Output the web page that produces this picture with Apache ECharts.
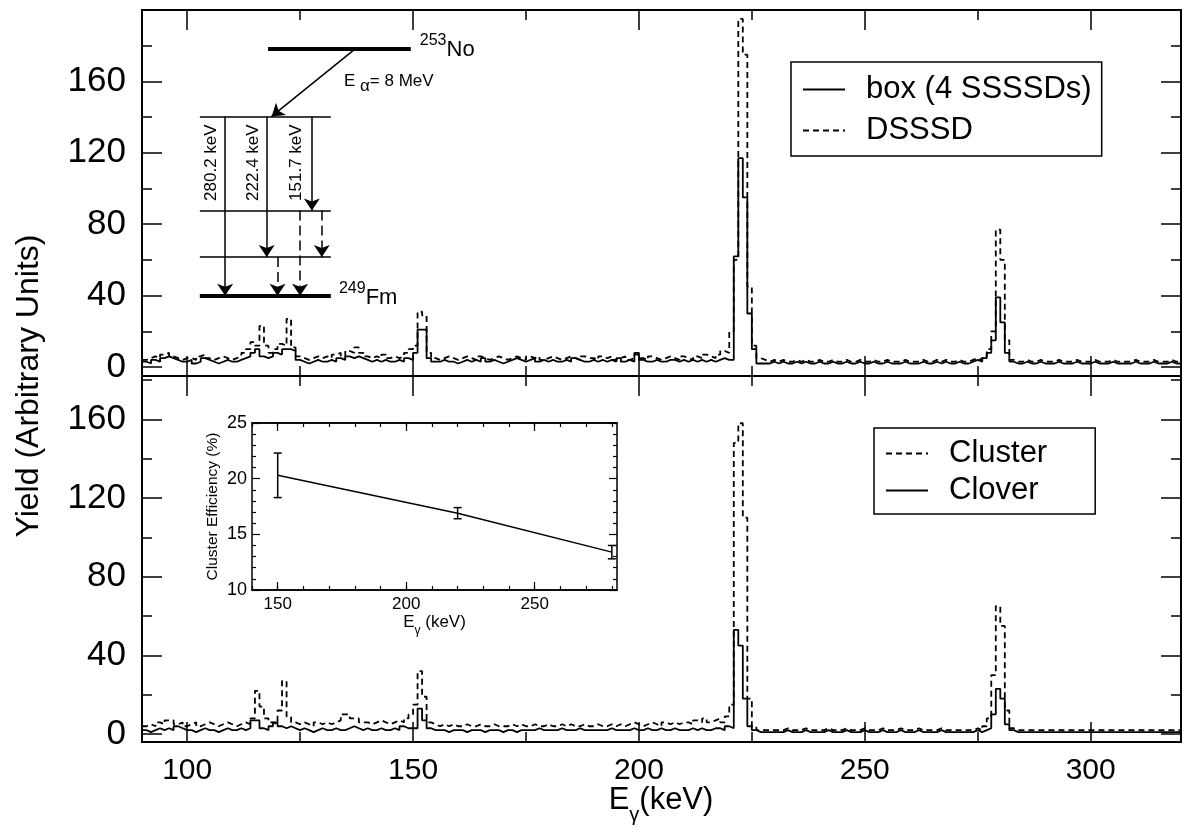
<!DOCTYPE html>
<html><head><meta charset="utf-8">
<script src="https://cdn.jsdelivr.net/npm/echarts@6/dist/echarts.min.js"></script>
<style>html,body{margin:0;padding:0;background:#fff}#c{width:1184px;height:832px}</style>
</head><body><div id="c"></div>
<script>
// ---------- data ----------
const binStart = 90, binWidth = 1;   // keV, bins 90..320
// top panel: box (4 SSSSDs) (solid)
const boxSSSSD = [
 3,2,4,3,5,6,5,4,3,3,
 4,2,3,5,4,3,2,3,4,3,
 3,4,5,6,8,10,6,5,6,8,
 7,10,10,9,4,3,2,3,4,3,
 3,4,3,5,4,6,5,6,5,4,
 3,4,3,4,3,3,4,3,5,4,
 8,21,21,5,3,3,4,3,3,2,
 3,4,3,4,3,5,3,4,3,2,
 3,4,5,4,3,4,5,3,4,3,
 4,3,3,4,3,5,4,3,3,4,
 3,4,3,4,3,5,3,4,3,8,
 4,3,3,4,3,3,4,4,3,4,
 3,4,3,4,3,4,3,4,5,4,
 4,62,117,95,30,10,2,2,2,3,
 2,3,2,2,3,2,3,2,2,3,
 2,2,3,2,2,3,2,2,3,2,
 2,3,2,2,3,2,2,2,3,2,
 2,2,3,2,2,3,2,3,2,2,
 3,2,2,3,4,3,5,8,15,39,
 25,8,3,2,2,3,2,2,3,2,
 2,2,3,2,2,2,3,2,2,2,
 3,2,2,2,3,2,2,2,2,3,
 2,2,2,3,2,2,2,3,2,2];
// top panel: DSSSD (dashed)
const dsssd = [
 4,5,6,5,7,8,6,5,4,5,
 5,4,6,7,5,4,5,6,5,4,
 5,6,8,10,14,12,23,12,8,10,
 13,12,27,11,6,5,4,5,6,5,
 6,5,7,8,6,9,8,11,8,6,
 5,6,5,7,5,6,5,6,8,10,
 12,31,29,8,5,4,5,6,5,4,
 5,6,5,4,6,5,4,5,6,5,
 4,5,6,5,4,6,5,6,4,5,
 6,5,4,5,6,5,4,6,5,5,
 4,6,5,6,4,5,6,4,5,7,
 5,4,6,5,4,5,6,5,4,6,
 5,4,6,5,7,6,5,7,9,8,
 20,60,195,175,45,12,5,4,3,4,
 3,4,3,3,4,3,4,3,3,4,
 3,3,4,3,3,4,3,3,4,3,
 3,4,3,3,4,3,3,3,4,3,
 3,3,4,3,3,4,3,4,3,3,
 4,3,3,4,5,4,6,10,20,77,
 60,15,4,3,3,4,3,3,4,3,
 3,3,4,3,3,3,4,3,3,3,
 4,3,3,3,4,3,3,3,3,4,
 3,3,3,4,3,3,3,4,3,3];
// bottom panel: Cluster (dashed)
const cluster = [
 4,5,4,6,5,7,7,5,6,4,
 5,6,4,5,6,5,4,5,6,5,
 4,5,6,5,8,22,14,8,6,5,
 12,27,9,6,5,6,5,4,6,5,
 6,5,6,7,10,10,8,8,6,6,
 5,6,7,6,5,6,7,6,8,10,
 15,32,19,6,5,4,5,4,5,4,
 4,5,4,4,5,4,4,5,4,4,
 4,5,4,5,4,4,5,4,4,5,
 4,4,5,4,5,4,4,5,4,4,
 5,4,4,5,4,5,4,5,6,5,
 4,5,6,5,4,6,5,6,5,6,
 6,5,7,6,8,6,7,8,6,9,
 15,148,158,110,18,4,2,2,2,2,
 2,2,3,2,2,2,3,2,2,2,
 2,3,2,2,2,3,2,2,2,3,
 2,2,2,3,2,2,2,3,2,2,
 2,3,2,2,2,2,3,2,2,2,
 2,2,2,2,3,2,4,8,30,65,
 55,12,3,2,2,2,2,2,2,2,
 2,2,2,2,2,2,2,2,2,2,
 2,2,2,2,2,2,2,2,2,2,
 2,2,2,2,2,2,2,2,2,2];
// bottom panel: Clover (solid)
const clover = [
 2,1,2,3,2,3,2,4,3,2,
 2,1,2,3,2,2,1,2,3,2,
 2,3,2,3,7,7,3,2,4,6,
 4,3,4,3,2,3,2,1,2,3,
 2,2,3,2,2,3,4,3,2,3,
 2,2,3,2,2,3,2,4,3,3,
 3,13,7,3,2,2,2,1,2,2,
 2,1,2,2,2,1,2,2,2,1,
 2,2,1,2,2,2,2,3,2,2,
 2,2,3,2,2,2,3,2,2,2,
 2,2,2,3,2,2,2,2,3,2,
 2,3,2,2,3,2,2,3,2,2,
 2,3,2,3,2,2,3,3,2,4,
 3,53,45,18,4,2,1,1,1,1,
 1,1,2,1,1,1,2,1,1,1,
 1,2,1,1,1,2,1,1,1,2,
 1,1,1,2,1,1,1,2,1,1,
 1,2,1,1,1,1,2,1,1,1,
 1,1,1,1,2,1,2,3,10,23,
 18,5,2,1,1,1,1,1,1,1,
 1,1,1,1,1,1,1,1,1,1,
 1,1,1,1,1,1,1,1,1,1,
 1,1,1,1,1,1,1,1,1,1];
// inset: cluster efficiency
const effE = [150, 220, 280];
const effVal = [20.3, 16.9, 13.4];
const effLow = [18.3, 16.4, 12.8];
const effHigh = [22.3, 17.4, 14.0];
// tick values
const xMajor = [100,150,200,250,300];
const xAll = [100,125,150,175,200,225,250,275,300];
const yLabels = [0,40,80,120,160];
const yMajorTop = [0,40,80,120,160,200];
const yAllTop = [0,20,40,60,80,100,120,140,160,180,200];
const yMajorBot = [0,40,80,120,160];
const yAllBot = [0,20,40,60,80,100,120,140,160,180];
const insetXLabels = [150,200,250];
// level scheme (in top-panel keV / yield coordinates)
const levelNo = {x:[117.9,149.5], y:178.2};
const levelsExcited = [140.4, 87.7, 61.6];
const levelFm = 39.9;
const levelX = [102.8, 131.8];
const alphaArrow = [[137.2,178.2],[118.7,140.4]];
const gammaSolid = [[108.4,140.4,39.9],[117.6,140.4,61.6],[127.6,140.4,87.7]];
const gammaDashed = [[125.0,87.7,39.9],[129.8,87.7,61.6],[120.0,61.6,39.9]];
const gammaLabels = [['280.2 keV',105.4],['222.4 keV',114.6],['151.7 keV',124.2]];

// ---------- chart ----------
const FONT = '"Liberation Sans", Arial, sans-serif';
const chart = echarts.init(document.getElementById('c'));

function hist(v){ const d=[]; for(let i=0;i<v.length;i++) d.push([binStart+i*binWidth, v[i]]); d.push([binStart+v.length*binWidth, v[v.length-1]]); return d; }

const grids = [
  {left:142, top:10, width:1039, height:366},
  {left:142, top:376, width:1039, height:366},
  {left:252, top:423, width:365, height:167, show:true, backgroundColor:'#fff', borderWidth:0}
];
const AX = {color:'#000', width:2};
function xAx(g, pos, ticks, len, labels){
  return {type:'value', gridIndex:g, position:pos, min:90, max:320,
    axisLine:{show:true, onZero:false, lineStyle:AX},
    axisTick:{show:true, inside:true, length:len, customValues:ticks, lineStyle:{color:'#000', width:1.5}},
    axisLabel:labels?{show:true, customValues:labels, fontSize:30, fontFamily:FONT, color:'#000', margin:14}:{show:false},
    splitLine:{show:false}};
}
function yAx(g, pos, ticks, len, labels, min, max){
  return {type:'value', gridIndex:g, position:pos, min:min, max:max,
    axisLine:{show:true, onZero:false, lineStyle:AX},
    axisTick:{show:true, inside:true, length:len, customValues:ticks, lineStyle:{color:'#000', width:1.5}},
    axisLabel:labels?{show:true, customValues:labels, fontSize:35, fontFamily:FONT, color:'#000', margin:16}:{show:false},
    splitLine:{show:false}};
}
const IAX = {color:'#000', width:1.5};
function ixAx(pos, ticks, len, labels, name){
  const a = {type:'value', gridIndex:2, position:pos, min:140, max:282,
    axisLine:{show:true, onZero:false, lineStyle:IAX},
    axisTick:{show:true, inside:true, length:len, customValues:ticks, lineStyle:{color:'#000', width:1.2}},
    axisLabel:labels?{show:true, customValues:labels, fontSize:17, fontFamily:FONT, color:'#000', margin:6}:{show:false},
    splitLine:{show:false}};
  if(name){ a.name='{a|E}{s|γ}{a| (keV)}'; a.nameLocation='middle'; a.nameGap=18;
    a.nameTextStyle={rich:{a:{fontSize:17,fontFamily:FONT,color:'#000',padding:[0,0,6,0],verticalAlign:'bottom'},s:{fontSize:12,fontFamily:FONT,color:'#000',verticalAlign:'bottom'}}}; }
  return a;
}
const insetTicksAll = [140,150,160,170,180,190,200,210,220,230,240,250,260,270,280];
function iyAx(pos, labels){
  const a = {type:'value', gridIndex:2, position:pos, min:10, max:25, interval:5,
    axisLine:{show:true, onZero:false, lineStyle:IAX},
    axisTick:{show:true, inside:true, length:8, lineStyle:{color:'#000', width:1.2}},
    minorTick:{show:true, splitNumber:5, length:4, lineStyle:{color:'#000', width:1.2}},
    axisLabel:labels?{show:true, fontSize:18, fontFamily:FONT, color:'#000', margin:5}:{show:false},
    splitLine:{show:false}};
  if(labels){ a.name='Cluster Efficiency (%)'; a.nameLocation='middle'; a.nameGap=31; a.nameTextStyle={fontSize:15.5,fontFamily:FONT,color:'#000'}; }
  return a;
}

const xAxis = [
  xAx(0,'bottom',xAll,10,null), xAx(0,'bottom',xMajor,20,null), xAx(0,'top',xAll,10,null), xAx(0,'top',xMajor,20,null),
  xAx(1,'bottom',xAll,10,xMajor), xAx(1,'bottom',xMajor,20,null), xAx(1,'top',xAll,10,null), xAx(1,'top',xMajor,20,null),
  ixAx('bottom',insetTicksAll,4,insetXLabels,true), ixAx('bottom',insetXLabels,8,null,false), ixAx('top',insetTicksAll,4,null,false), ixAx('top',insetXLabels,8,null,false)
];
const yAxis = [
  yAx(0,'left',yAllTop,10,yLabels,-5,200), yAx(0,'left',yMajorTop,20,null,-5,200), yAx(0,'right',yAllTop,10,null,-5,200), yAx(0,'right',yMajorTop,20,null,-5,200),
  yAx(1,'left',yAllBot,10,yLabels,-4,182), yAx(1,'left',yMajorBot,20,null,-4,182), yAx(1,'right',yAllBot,10,null,-4,182), yAx(1,'right',yMajorBot,20,null,-4,182),
  iyAx('left',true), iyAx('right',false)
];

const DASH = [6,4];
function histSeries(name, vals, xi, yi, dashed){
  return {type:'line', name:name, xAxisIndex:xi, yAxisIndex:yi, step:'end', data:hist(vals),
    symbol:'none', showSymbol:false, animation:false, clip:true,
    lineStyle:{color:'#000', width:1.8, type: dashed?DASH:'solid'}, itemStyle:{color:'#000'}};
}

// level scheme line data
const levelLines = [{coords:[[levelNo.x[0],levelNo.y],[levelNo.x[1],levelNo.y]], lineStyle:{width:4}}];
levelsExcited.forEach(y=>levelLines.push({coords:[[levelX[0],y],[levelX[1],y]], lineStyle:{width:1.5}}));
levelLines.push({coords:[[levelX[0],levelFm],[levelX[1],levelFm]], lineStyle:{width:4}});

const series = [
  histSeries('DSSSD', dsssd, 0, 0, true),
  histSeries('box (4 SSSSDs)', boxSSSSD, 0, 0, false),
  histSeries('Cluster', cluster, 4, 4, true),
  histSeries('Clover', clover, 4, 4, false),
  {type:'lines', coordinateSystem:'cartesian2d', xAxisIndex:0, yAxisIndex:0, animation:false, silent:true,
   symbol:'none', lineStyle:{color:'#000', width:1.5, opacity:1}, data:levelLines},
  {type:'lines', coordinateSystem:'cartesian2d', xAxisIndex:0, yAxisIndex:0, animation:false, silent:true,
   symbol:['none','arrow'], symbolSize:[7,12], lineStyle:{color:'#000', width:1.5, opacity:1},
   data:[{coords:alphaArrow}].concat(gammaSolid.map(g=>({coords:[[g[0],g[1]],[g[0],g[2]]]})))},
  {type:'lines', coordinateSystem:'cartesian2d', xAxisIndex:0, yAxisIndex:0, animation:false, silent:true,
   symbol:['none','arrow'], symbolSize:[7,12], lineStyle:{color:'#000', width:1.5, type:[10,5], opacity:1},
   data:gammaDashed.map(g=>({coords:[[g[0],g[1]],[g[0],g[2]]]}))},
  {type:'line', xAxisIndex:8, yAxisIndex:8, data:effE.map((e,i)=>[e,effVal[i]]), symbol:'none', animation:false,
   lineStyle:{color:'#000', width:1.5}},
  {type:'custom', xAxisIndex:8, yAxisIndex:8, animation:false, data:effE.map((e,i)=>[e,effLow[i],effHigh[i]]),
   renderItem:function(params, api){
     const x=api.value(0), p1=api.coord([x,api.value(1)]), p2=api.coord([x,api.value(2)]), w=4;
     const st={stroke:'#000', lineWidth:1.5};
     return {type:'group', children:[
       {type:'line', shape:{x1:p1[0],y1:p1[1],x2:p2[0],y2:p2[1]}, style:st},
       {type:'line', shape:{x1:p1[0]-w,y1:p1[1],x2:p1[0]+w,y2:p1[1]}, style:st},
       {type:'line', shape:{x1:p2[0]-w,y1:p2[1],x2:p2[0]+w,y2:p2[1]}, style:st}]};
   }}
];

const legendBase = {orient:'vertical', selectedMode:false, borderColor:'#000', borderWidth:1.5, backgroundColor:'#fff',
  itemWidth:42, itemHeight:2, itemStyle:{opacity:0, borderWidth:0},
  textStyle:{fontSize:31, fontFamily:FONT, color:'#000', padding:[0,0,0,16]}};
const legend = [
  Object.assign({}, legendBase, {data:['box (4 SSSSDs)','DSSSD'], left:791, top:62, itemGap:10, padding:[12,10,10,11]}),
  Object.assign({}, legendBase, {data:['Cluster','Clover'], left:874, top:428, itemGap:6, padding:[10,48,8,11]})
];

chart.setOption({animation:false, backgroundColor:'#fff', grid:grids, xAxis:xAxis, yAxis:yAxis, series:series, legend:legend});

// annotation texts placed via axis coordinates
function px(x,y){ return chart.convertToPixel({xAxisIndex:0, yAxisIndex:0}, [x,y]); }
const g = [];
const pNo = px(151.5, 179.4), pFm = px(133.6, 40.5), pEa = px(134.7, 158.7);
const supRich = {sup:{fontSize:16,fontFamily:FONT,fill:'#000',padding:[0,0,12,0],verticalAlign:'bottom'}, b:{fontSize:22,fontFamily:FONT,fill:'#000',verticalAlign:'bottom'}};
g.push({type:'text', x:pNo[0], y:pNo[1], style:{text:'{sup|253}{b|No}', rich:supRich, align:'left', verticalAlign:'middle'}});
g.push({type:'text', x:pFm[0], y:pFm[1], style:{text:'{sup|249}{b|Fm}', rich:supRich, align:'left', verticalAlign:'middle'}});
g.push({type:'text', x:pEa[0], y:pEa[1], style:{text:'{a|E }{s|α}{a|= 8 MeV}', align:'left', verticalAlign:'middle',
  rich:{a:{fontSize:17,fontFamily:FONT,fill:'#000',padding:[0,0,5,0],verticalAlign:'bottom'}, s:{fontSize:17,fontFamily:FONT,fill:'#000',verticalAlign:'bottom'}}}});
gammaLabels.forEach(l=>{ const p=px(l[1],114.5);
  g.push({type:'text', x:p[0], y:p[1], rotation:Math.PI/2, style:{text:l[0], fontSize:17, fontFamily:FONT, fill:'#000', align:'center', verticalAlign:'middle'}}); });
g.push({type:'text', x:29, y:386, rotation:Math.PI/2, style:{text:'Yield (Arbitrary Units)', fontSize:32, fontFamily:FONT, fill:'#000', align:'center', verticalAlign:'middle'}});
g.push({type:'text', x:661, y:805, style:{text:'{a|E}{s|γ}{a|(keV)}', align:'center', verticalAlign:'middle',
  rich:{a:{fontSize:31,fontFamily:FONT,fill:'#000',padding:[0,0,10,0],verticalAlign:'bottom'}, s:{fontSize:20,fontFamily:FONT,fill:'#000',verticalAlign:'bottom'}}}});
chart.setOption({graphic:g});
</script></body></html>
